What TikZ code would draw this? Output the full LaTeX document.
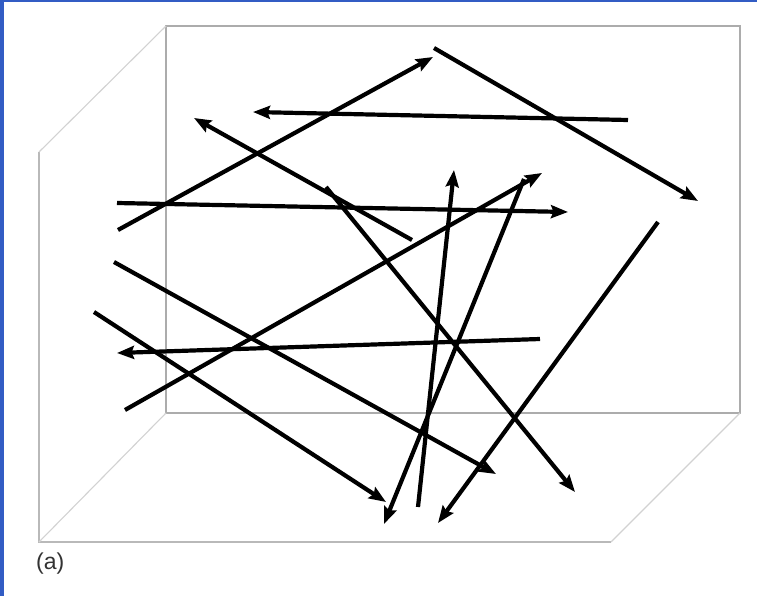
\documentclass[tikz,border=0pt]{standalone}
\usepackage{fontspec}
\newfontfamily\labelfont{Liberation Sans}
\usepackage{tikz}
\usetikzlibrary{arrows.meta}
\definecolor{Frame}{RGB}{50,92,196}

\begin{document}
\begin{tikzpicture}[
  x=1pt, y=-1pt,
  backedge/.style={draw=gray!65, line width=1.5pt},
  frontedge/.style={draw=gray!55, line width=1.3pt},
  diagedge/.style={draw=gray!35, line width=1.1pt},
  fibre/.style={-{Stealth[length=17pt,width=13pt,inset=2.5pt]}, line width=4.2pt, black},
  lbl/.style={font=\labelfont\fontsize{23}{26}\selectfont, text=black!80, inner sep=0pt}
]
\useasboundingbox (0,0) rectangle (757,596);
\fill[white] (0,0) rectangle (757,596);
\fill[Frame] (0,0) rectangle (4,596);
\fill[Frame] (0,0) rectangle (757,2);

%% ── Caja (esquinas) ─────────────────────────────────────────────────────────
\coordinate (b1) at (166,26);
\coordinate (b2) at (740,413);
\coordinate (b3) at (166,413);
\coordinate (f1) at (39,152);
\coordinate (f2) at (39,542);
\coordinate (f3) at (611,542);

\draw[backedge]  (b1) rectangle (b2);
\draw[frontedge] (f1) -- (f2) -- (f3);
\draw[diagedge]  (f1) -- (b1);
\draw[diagedge]  (f2) -- (b3);
\draw[diagedge]  (f3) -- (b2);

%% ── Fibras ──────────────────────────────────────────────────────────────────
\foreach \n/\a/\b in {
    1/{118,230}/{433,57},   2/{434,48}/{698,201},   3/{628,120}/{253,112},
    4/{412,240}/{194,118},  5/{117,203}/{568,212},  6/{326,187}/{575,492},
    7/{125,410}/{542,173},  8/{418,507}/{454,170},  9/{524,179}/{384,524},
   10/{658,222}/{438,523}, 11/{540,339}/{117,353}, 12/{114,262}/{496,474},
   13/{94,312}/{386,502}}{
  \coordinate (s\n) at (\a);
  \coordinate (e\n) at (\b);
  \draw[fibre] (s\n) -- (e\n);
}

\node[lbl, anchor=west] (cap) at (36,564) {(a)};

\end{tikzpicture}
\end{document}
